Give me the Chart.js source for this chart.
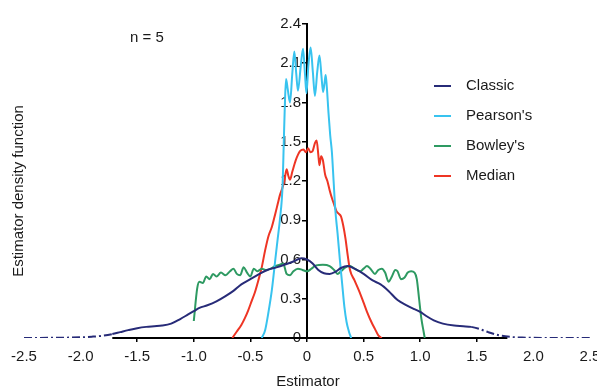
<!DOCTYPE html>
<html lang="en">
<head>
  <meta charset="UTF-8">
  <title>Estimator density, n = 5</title>
  <script src="https://cdn.jsdelivr.net/npm/chart.js"></script>
  <style>
    body { margin: 0; background: #fff; }
  </style>
</head>
<body>
  <canvas id="densityChart" width="597" height="389"></canvas>

  <script>
    // tick labels / axes
    const xTicks = [-2.5, -2.0, -1.5, -1.0, -0.5, 0, 0.5, 1.0, 1.5, 2.0, 2.5];
    const yTicks = [0, 0.3, 0.6, 0.9, 1.2, 1.5, 1.8, 2.1, 2.4];
    const seriesNames = ['Classic', "Pearson's", "Bowley's", 'Median'];
    const seriesColors = ['#272b78', '#38c3ef', '#2e9a62', '#ee3524'];

    // Classic estimator (dash-dot tails)
    const classicX = [-2.5, -2.2, -2.0, -1.9, -1.8, -1.72, -1.65, -1.58, -1.5, -1.42, -1.35, -1.28, -1.2, -1.12, -1.05, -1.0,
      -0.95, -0.88, -0.8, -0.72, -0.65, -0.58, -0.5, -0.42, -0.35, -0.27, -0.2, -0.12, -0.05, 0, 0.05, 0.1, 0.15, 0.2,
      0.25, 0.3, 0.36, 0.42, 0.5, 0.58, 0.65, 0.72, 0.8, 0.88, 0.95, 1.0, 1.05, 1.12, 1.2, 1.3, 1.38, 1.45, 1.52, 1.6,
      1.7, 1.8, 1.9, 2.0, 2.2, 2.5];
    const classicY = [0, 0.002, 0.005, 0.01, 0.018, 0.03, 0.045, 0.06, 0.075, 0.085, 0.09, 0.095, 0.11, 0.145, 0.18, 0.205,
      0.23, 0.25, 0.28, 0.32, 0.36, 0.41, 0.45, 0.49, 0.52, 0.54, 0.56, 0.585, 0.61, 0.6, 0.57, 0.52, 0.495, 0.49,
      0.505, 0.535, 0.55, 0.53, 0.49, 0.44, 0.41, 0.36, 0.29, 0.25, 0.22, 0.2, 0.17, 0.135, 0.11, 0.095, 0.09, 0.085, 0.07, 0.045,
      0.02, 0.008, 0.003, 0.001, 0, 0];
    const classicSolidFrom = -1.72;
    const classicSolidTo = 1.45;

    // Pearson's
    const pearsonX = [-0.40, -0.37, -0.34, -0.31, -0.28, -0.26, -0.24, -0.215, -0.205, -0.195, -0.185, -0.17, -0.15, -0.13,
      -0.112, -0.095, -0.08, -0.055, -0.035, -0.018, -0.005, 0.012, 0.032, 0.052, 0.07, 0.09, 0.11, 0.128, 0.142, 0.155,
      0.165, 0.175, 0.19, 0.205, 0.22, 0.235, 0.25, 0.27, 0.29, 0.31, 0.33, 0.35, 0.37, 0.39];
    const pearsonY = [0, 0.06, 0.2, 0.37, 0.6, 0.75, 0.9, 1.18, 1.5, 1.8, 1.98, 1.9, 1.8, 2.02, 2.19, 2.02, 1.89, 2.08, 2.21,
      2.02, 1.87, 2.08, 2.22, 2.03, 1.85, 2.03, 2.16, 2.0, 1.88, 1.95, 2.01, 1.92, 1.72, 1.55, 1.42, 1.2, 0.98, 0.8,
      0.6, 0.42, 0.24, 0.12, 0.05, 0];

    // Bowley's
    const bowleyX = [-1.0, -0.97, -0.95, -0.92, -0.89, -0.86, -0.83, -0.8, -0.76, -0.72, -0.68, -0.65, -0.62, -0.59, -0.56,
      -0.53, -0.5, -0.47, -0.44, -0.4, -0.36, -0.32, -0.28, -0.24, -0.21, -0.18, -0.15, -0.12, -0.08, -0.04, 0, 0.04,
      0.08, 0.14, 0.2, 0.24, 0.27, 0.3, 0.34, 0.38, 0.42, 0.47, 0.5, 0.53, 0.56, 0.6, 0.63, 0.66, 0.69, 0.72, 0.75,
      0.78, 0.8, 0.83, 0.86, 0.89, 0.92, 0.95, 0.97, 0.99, 1.01, 1.03, 1.04];
    const bowleyY = [0.13, 0.38, 0.43, 0.42, 0.47, 0.45, 0.49, 0.47, 0.5, 0.48, 0.51, 0.53, 0.49, 0.48, 0.54,
      0.5, 0.47, 0.53, 0.51, 0.53, 0.52, 0.53, 0.55, 0.56, 0.57, 0.49, 0.48, 0.51, 0.53, 0.52, 0.51, 0.53,
      0.555, 0.56, 0.55, 0.52, 0.49, 0.51, 0.54, 0.55, 0.53, 0.51, 0.53, 0.55, 0.53, 0.49, 0.52, 0.53, 0.5, 0.43, 0.47,
      0.52, 0.51, 0.45, 0.46, 0.5, 0.51, 0.5, 0.45, 0.3, 0.15, 0.05, 0];

    // Median
    const medianX = [-0.66, -0.62, -0.58, -0.55, -0.52, -0.49, -0.46, -0.43, -0.4, -0.37, -0.34, -0.31, -0.28, -0.26, -0.24,
      -0.22, -0.2, -0.18, -0.165, -0.15, -0.13, -0.11, -0.09, -0.06, -0.03, -0.01, 0.01, 0.03, 0.05, 0.07, 0.085, 0.1,
      0.11, 0.125, 0.14, 0.16, 0.18, 0.2, 0.22, 0.24, 0.26, 0.28, 0.3, 0.32, 0.34, 0.36, 0.38, 0.42, 0.46, 0.5, 0.53,
      0.57, 0.6, 0.63, 0.66];
    const medianY = [0, 0.05, 0.1, 0.15, 0.21, 0.28, 0.35, 0.44, 0.54, 0.67, 0.78, 0.85, 0.95, 1.02, 1.09,
      1.14, 1.2, 1.29, 1.24, 1.21, 1.27, 1.33, 1.38, 1.43, 1.44, 1.42, 1.45, 1.42, 1.43, 1.49, 1.51, 1.4,
      1.32, 1.39, 1.36, 1.25, 1.2, 1.13, 1.07, 1.02, 0.97, 0.95, 0.93, 0.86, 0.76, 0.63, 0.52, 0.44, 0.36, 0.27, 0.2,
      0.12, 0.07, 0.02, 0];

    // x axis line only runs over the middle part
    const xAxisFrom = -1.72;
    const xAxisTo = 1.77;

    const FONT = "'Liberation Sans', Arial, sans-serif";
    const TEXT = '#1a1a1a';

    function toPoints(xs, ys) {
      return xs.map((x, i) => ({ x: x, y: ys[i] }));
    }
    const fmt = v => (v === 0 ? '0' : v.toFixed(1));

    // titles, legend, partial x axis line, y axis moved onto x = 0
    const decorations = {
      id: 'decorations',
      afterLayout(chart) {
        const y = chart.scales.y;
        y.left = 0;
        y.right = chart.scales.x.getPixelForValue(0);
        y.width = y.right - y.left;
      },
      beforeDatasetsDraw(chart) {
        const ctx = chart.ctx;
        const xs = chart.scales.x;
        const y0 = chart.scales.y.getPixelForValue(0);
        ctx.save();
        ctx.strokeStyle = '#000';
        ctx.lineWidth = 2;
        ctx.beginPath();
        ctx.moveTo(xs.getPixelForValue(xAxisFrom), y0);
        ctx.lineTo(xs.getPixelForValue(xAxisTo), y0);
        ctx.stroke();
        ctx.restore();
      },
      afterDraw(chart) {
        const ctx = chart.ctx;
        ctx.save();
        ctx.fillStyle = TEXT;
        ctx.font = '15px ' + FONT;
        ctx.textBaseline = 'middle';

        ctx.textAlign = 'left';
        ctx.fillText('n = 5', 130, 38);

        ctx.textAlign = 'center';
        ctx.fillText('Estimator', 308, 382);

        ctx.save();
        ctx.translate(19, 191);
        ctx.rotate(-Math.PI / 2);
        ctx.fillText('Estimator density function', 0, 0);
        ctx.restore();

        // legend
        chart.data.datasets.forEach((ds, i) => {
          const y = 86 + i * 30;
          ctx.strokeStyle = ds.borderColor;
          ctx.lineWidth = 2;
          ctx.beginPath();
          ctx.moveTo(434, y);
          ctx.lineTo(451, y);
          ctx.stroke();
          ctx.textAlign = 'left';
          ctx.fillStyle = TEXT;
          ctx.fillText(ds.label, 466, y);
        });
        ctx.restore();
      }
    };

    const lineDefaults = {
      borderWidth: 2,
      pointRadius: 0,
      fill: false,
      cubicInterpolationMode: 'monotone'
    };

    new Chart(document.getElementById('densityChart'), {
      type: 'line',
      data: {
        datasets: [
          Object.assign({}, lineDefaults, {
            label: seriesNames[0],
            data: toPoints(classicX, classicY),
            borderColor: seriesColors[0],
            segment: {
              borderDash: c => (c.p0.parsed.x < classicSolidFrom || c.p0.parsed.x >= classicSolidTo) ? [8, 3, 2, 3] : undefined
            }
          }),
          Object.assign({}, lineDefaults, {
            label: seriesNames[1],
            data: toPoints(pearsonX, pearsonY),
            borderColor: seriesColors[1]
          }),
          Object.assign({}, lineDefaults, {
            label: seriesNames[2],
            data: toPoints(bowleyX, bowleyY),
            borderColor: seriesColors[2]
          }),
          Object.assign({}, lineDefaults, {
            label: seriesNames[3],
            data: toPoints(medianX, medianY),
            borderColor: seriesColors[3]
          })
        ]
      },
      options: {
        responsive: false,
        animation: false,
        devicePixelRatio: 1,
        layout: { padding: { left: 24, right: 7, top: 24, bottom: 0 } },
        plugins: {
          legend: { display: false },
          tooltip: { enabled: false }
        },
        scales: {
          x: {
            type: 'linear',
            position: 'bottom',
            min: xTicks[0],
            max: xTicks[xTicks.length - 1],
            afterBuildTicks: s => { s.ticks = xTicks.map(v => ({ value: v })); },
            afterFit: s => { s.height = 51; s.paddingLeft = 0; s.paddingRight = 0; },
            border: { display: false },
            grid: {
              display: true, drawOnChartArea: false, drawTicks: true, tickLength: 4, lineWidth: 1.5,
              color: c => (c.tick && Math.abs(c.tick.value) > 1.75 ? 'rgba(0,0,0,0)' : '#000')
            },
            ticks: {
              callback: fmt,
              color: TEXT,
              font: { family: FONT, size: 15 },
              padding: 6,
              maxRotation: 0,
              autoSkip: false
            }
          },
          y: {
            type: 'linear',
            position: 'left',
            min: yTicks[0],
            max: yTicks[yTicks.length - 1],
            afterBuildTicks: s => { s.ticks = yTicks.map(v => ({ value: v })); },
            afterFit: s => { s.width = 0; s.paddingTop = 0; s.paddingBottom = 0; },
            border: { display: true, color: '#000', width: 2 },
            grid: { display: true, drawOnChartArea: false, drawTicks: true, tickLength: 5, color: '#000', lineWidth: 1.5 },
            ticks: {
              callback: fmt,
              color: TEXT,
              font: { family: FONT, size: 15 },
              padding: 1
            }
          }
        }
      },
      plugins: [decorations]
    });
  </script>
</body>
</html>
